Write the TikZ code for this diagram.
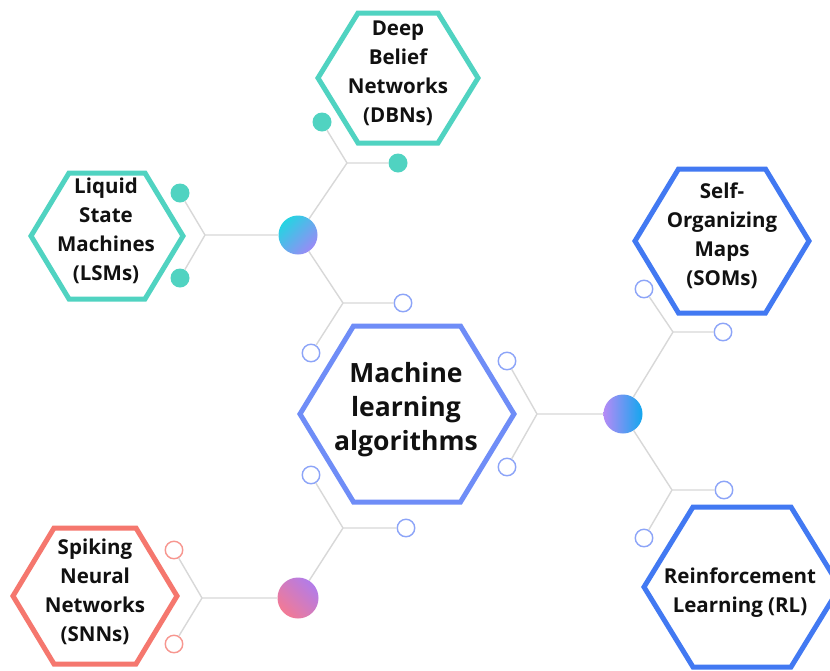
\documentclass[tikz,border=0pt]{standalone}
\usepackage{fontspec}
\setmainfont{Open Sans}
\definecolor{linegray}{HTML}{D8D8D8}
\definecolor{tealc}{HTML}{50D3C1}
\definecolor{centerblue}{HTML}{6F8DF7}
\definecolor{royalblue}{HTML}{4279F2}
\definecolor{ringblue}{HTML}{8CA4F8}
\definecolor{coral}{HTML}{F5776E}
\definecolor{ringcoral}{HTML}{F7968F}
\definecolor{textdark}{HTML}{111111}
\definecolor{hubcyan}{HTML}{25D4E2}
\definecolor{hubviolet}{HTML}{9A8AF6}
\definecolor{hubpurple}{HTML}{B58AF6}
\definecolor{hubblue}{HTML}{12A7EE}
\definecolor{hubpink}{HTML}{F27A95}
\definecolor{hubmauve}{HTML}{B27CE9}
\newcommand{\hexagon}[5]{%
  \draw[hexline, draw=#5] ({#1-#3},#2) -- ({#1-#3/2},{#2-#4}) -- ({#1+#3/2},{#2-#4})
    -- ({#1+#3},#2) -- ({#1+#3/2},{#2+#4}) -- ({#1-#3/2},{#2+#4}) -- cycle;}
\begin{document}
\begin{tikzpicture}[x=1pt,y=-1pt,
  link/.style={draw=linegray, line width=1.4pt},
  tdot/.style={circle, fill=tealc, minimum size=19pt, inner sep=0pt},
  odot/.style={circle, draw=ringblue, fill=white, line width=1.4pt, minimum size=17.5pt, inner sep=0pt},
  cdot/.style={circle, draw=ringcoral, fill=white, line width=1.4pt, minimum size=17.5pt, inner sep=0pt},
  hub/.style={circle, minimum size=39pt, inner sep=0pt},
  lbl/.style={font=\bfseries\fontsize{20.5}{29}\selectfont, align=center, text=textdark, inner sep=0pt},
  hexline/.style={line width=5pt, line join=miter}
]
\useasboundingbox[fill=white] (0,0) rectangle (830,670);

% hexagons
\hexagon{407}{414}{107}{88}{centerblue}
\hexagon{398}{78}{80}{65}{tealc}
\hexagon{107}{236}{76}{63}{tealc}
\hexagon{722}{241}{87}{72}{royalblue}
\hexagon{742}{587}{98}{80}{royalblue}
\hexagon{95}{596}{82}{68}{coral}

% labels
\node[lbl, font=\bfseries\fontsize{26.5}{34}\selectfont] (ml) at (406,410) {Machine\\learning\\algorithms};
\node[lbl] (dbn) at (398,73) {Deep\\Belief\\Networks\\(DBNs)};
\node[lbl] (lsm) at (106,231) {Liquid\\State\\Machines\\(LSMs)};
\node[lbl] (som) at (722,236) {Self-\\Organizing\\Maps\\(SOMs)};
\node[lbl] (rl) at (740,593) {Reinforcement\\Learning (RL)};
\node[lbl] (snn) at (95,592) {Spiking\\Neural\\Networks\\(SNNs)};

% hubs
\node[hub, top color=hubcyan, bottom color=hubviolet, shading angle=45] (h1) at (298,235) {};
\node[hub, left color=hubpurple, right color=hubblue] (h2) at (623,414) {};
\node[hub, minimum size=41pt, top color=hubmauve, bottom color=hubpink, shading angle=-45] (h3) at (298,598) {};

% branch points
\coordinate (b1l) at (205,235);
\coordinate (b1u) at (347,163);
\coordinate (b1d) at (343,303);
\coordinate (b2l) at (537,414);
\coordinate (b2u) at (673,332);
\coordinate (b2d) at (672,490);
\coordinate (b3l) at (202,598);
\coordinate (b3u) at (343,528);

% end dots
\node[tdot] (t1a) at (180,193) {};
\node[tdot] (t1b) at (180,278) {};
\node[tdot] (t1c) at (398,163) {};
\node[tdot] (t1d) at (322,122) {};
\node[odot] (o1a) at (403,303) {};
\node[odot] (o1b) at (311,353) {};
\node[odot] (o2a) at (507,361) {};
\node[odot] (o2b) at (507,467) {};
\node[odot] (o2c) at (723,332) {};
\node[odot] (o2d) at (644,289) {};
\node[odot] (o2e) at (724,490) {};
\node[odot] (o2f) at (644,538) {};
\node[cdot] (c3a) at (174,550) {};
\node[cdot] (c3b) at (174,644) {};
\node[odot] (o3a) at (406,528) {};
\node[odot] (o3b) at (311,475) {};

% connectors
\draw[link] (h1) -- (b1l) (b1l) -- (t1a) (b1l) -- (t1b);
\draw[link] (h1) -- (b1u) (b1u) -- (t1c) (b1u) -- (t1d);
\draw[link] (h1) -- (b1d) (b1d) -- (o1a) (b1d) -- (o1b);
\draw[link] (h2) -- (b2l) (b2l) -- (o2a) (b2l) -- (o2b);
\draw[link] (h2) -- (b2u) (b2u) -- (o2c) (b2u) -- (o2d);
\draw[link] (h2) -- (b2d) (b2d) -- (o2e) (b2d) -- (o2f);
\draw[link] (h3) -- (b3l) (b3l) -- (c3a) (b3l) -- (c3b);
\draw[link] (h3) -- (b3u) (b3u) -- (o3a) (b3u) -- (o3b);
\end{tikzpicture}
\end{document}
